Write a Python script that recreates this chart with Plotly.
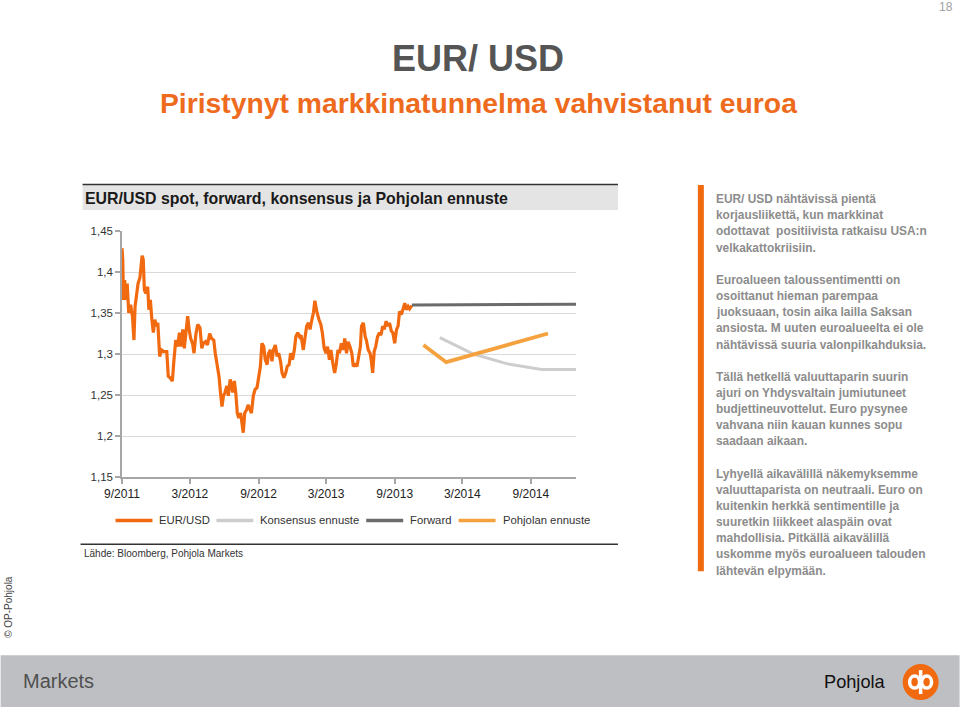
import plotly.graph_objects as go

# ---------------- data ----------------
spot_dates = [
 "2011-09-01","2011-09-03","2011-09-05","2011-09-08","2011-09-12","2011-09-15","2011-09-19","2011-09-24","2011-09-29",
 "2011-10-03","2011-10-06","2011-10-10","2011-10-14","2011-10-19","2011-10-22","2011-10-25","2011-10-28","2011-10-31",
 "2011-11-04","2011-11-09","2011-11-12","2011-11-16","2011-11-20","2011-11-24","2011-11-28",
 "2011-12-02","2011-12-06","2011-12-11","2011-12-16","2011-12-22","2011-12-30",
 "2012-01-03","2012-01-08","2012-01-14","2012-01-18","2012-01-23","2012-01-28",
 "2012-02-02","2012-02-06","2012-02-11","2012-02-15","2012-02-20","2012-02-24","2012-02-28",
 "2012-03-03","2012-03-08","2012-03-12","2012-03-17","2012-03-22","2012-03-28",
 "2012-04-02","2012-04-06","2012-04-12","2012-04-17","2012-04-23","2012-04-28",
 "2012-05-04","2012-05-08","2012-05-13","2012-05-18","2012-05-22","2012-05-26","2012-05-30",
 "2012-06-03","2012-06-08","2012-06-12","2012-06-17","2012-06-21","2012-06-24","2012-06-28",
 "2012-07-02","2012-07-06","2012-07-10","2012-07-15","2012-07-18","2012-07-22","2012-07-26","2012-07-31",
 "2012-08-04","2012-08-09","2012-08-13","2012-08-18","2012-08-23","2012-08-28",
 "2012-09-02","2012-09-06","2012-09-10","2012-09-15","2012-09-19","2012-09-24","2012-09-28",
 "2012-10-03","2012-10-07","2012-10-11","2012-10-16","2012-10-21","2012-10-25","2012-10-30",
 "2012-11-03","2012-11-08","2012-11-13","2012-11-17","2012-11-22","2012-11-26",
 "2012-12-01","2012-12-06","2012-12-10","2012-12-15","2012-12-20","2012-12-24","2012-12-30",
 "2013-01-03","2013-01-08","2013-01-13","2013-01-17","2013-01-22","2013-01-26","2013-01-30",
 "2013-02-02","2013-02-05","2013-02-10","2013-02-15","2013-02-19","2013-02-24",
 "2013-03-01","2013-03-05","2013-03-10","2013-03-14","2013-03-19","2013-03-24","2013-03-28",
 "2013-04-02","2013-04-06","2013-04-11","2013-04-16","2013-04-20","2013-04-25","2013-04-29",
 "2013-05-04","2013-05-09","2013-05-13","2013-05-18","2013-05-23","2013-05-27",
 "2013-06-01","2013-06-04","2013-06-09","2013-06-14","2013-06-17","2013-06-22","2013-06-27","2013-06-30",
 "2013-07-04","2013-07-08","2013-07-12","2013-07-17","2013-07-22","2013-07-26","2013-07-31",
 "2013-08-04","2013-08-09","2013-08-14","2013-08-18","2013-08-23","2013-08-27",
 "2013-09-01","2013-09-06","2013-09-10","2013-09-14","2013-09-19","2013-09-23","2013-09-28",
 "2013-10-02","2013-10-07","2013-10-11","2013-10-14","2013-10-17",
]
spot_values = [
 1.429,1.415,1.366,1.390,1.366,1.386,1.350,1.360,1.346,
 1.317,1.358,1.374,1.386,1.393,1.403,1.420,1.415,1.378,
 1.374,1.382,1.354,1.366,1.342,1.326,1.342,
 1.334,1.338,1.297,1.305,1.303,1.303,
 1.273,1.271,1.267,1.291,1.317,1.309,
 1.326,1.309,1.330,1.307,1.330,1.346,1.330,
 1.319,1.313,1.301,1.324,1.336,1.332,
 1.307,1.313,1.315,1.311,1.325,1.319,
 1.317,1.301,1.285,1.273,1.253,1.236,1.249,
 1.253,1.261,1.249,1.269,1.261,1.253,1.267,
 1.253,1.228,1.222,1.228,1.216,1.204,1.228,1.232,
 1.238,1.232,1.228,1.249,1.257,1.259,
 1.273,1.285,1.313,1.309,1.293,1.287,1.301,
 1.305,1.291,1.305,1.311,1.297,1.301,1.291,
 1.277,1.271,1.277,1.285,1.287,1.301,
 1.293,1.305,1.321,1.326,1.321,1.323,1.305,
 1.317,1.334,1.338,1.330,1.342,1.350,1.365,
 1.356,1.350,1.342,1.336,1.326,1.307,
 1.301,1.309,1.293,1.305,1.289,1.277,1.287,
 1.305,1.301,1.313,1.305,1.319,1.301,1.315,
 1.309,1.301,1.285,1.287,1.285,1.297,
 1.309,1.334,1.338,1.321,1.317,1.305,1.301,1.293,
 1.277,1.303,1.309,1.321,1.326,1.323,1.334,
 1.330,1.340,1.334,1.338,1.328,1.326,
 1.313,1.330,1.334,1.352,1.348,1.354,1.362,
 1.354,1.358,1.355,1.357,1.359,
]

cons_dates = ["2013-12-31", "2014-03-31", "2014-06-30", "2014-09-30", "2014-12-31"]
cons_values = [1.32, 1.30, 1.288, 1.281, 1.281]

fwd_dates = ["2013-10-17", "2014-01-17", "2014-04-17", "2014-07-17", "2014-10-17", "2014-12-31"]
fwd_values = [1.3598, 1.3598, 1.3598, 1.3598, 1.3600, 1.3606]

pohj_dates = ["2013-11-17", "2014-01-17", "2014-10-17"]
pohj_values = [1.311, 1.290, 1.325]

y_ticks = [1.15, 1.20, 1.25, 1.30, 1.35, 1.40, 1.45]
y_tick_labels = ["1,15", "1,2", "1,25", "1,3", "1,35", "1,4", "1,45"]
x_ticks = ["2011-09-01", "2012-03-01", "2012-09-01", "2013-03-01", "2013-09-01", "2014-03-01", "2014-09-01"]
x_tick_labels = ["9/2011", "3/2012", "9/2012", "3/2013", "9/2013", "3/2014", "9/2014"]

series_names = ["EUR/USD", "Konsensus ennuste", "Forward", "Pohjolan ennuste"]
series_colors = ["#F26A10", "#CDCDCD", "#6B6B6B", "#F5A23E"]

right_paragraphs = [
    ["EUR/ USD nähtävissä pientä", "korjausliikettä, kun markkinat",
     "odottavat  positiivista ratkaisu USA:n", "velkakattokriisiin."],
    ["Euroalueen taloussentimentti on", "osoittanut hieman parempaa",
     "juoksuaan, tosin aika lailla Saksan", "ansiosta. M uuten euroalueelta ei ole",
     "nähtävissä suuria valonpilkahduksia."],
    ["Tällä hetkellä valuuttaparin suurin", "ajuri on Yhdysvaltain jumiutuneet",
     "budjettineuvottelut. Euro pysynee", "vahvana niin kauan kunnes sopu",
     "saadaan aikaan."],
    ["Lyhyellä aikavälillä näkemyksemme", "valuuttaparista on neutraali. Euro on",
     "kuitenkin herkkä sentimentille ja", "suuretkin liikkeet alaspäin ovat",
     "mahdollisia. Pitkällä aikavälillä", "uskomme myös euroalueen talouden",
     "lähtevän elpymään."],
]

# ---------------- layout helpers ----------------
W, H = 960, 711
L, R, T, B = 121.5, 576, 231, 477.5  # plot area in pixels


def px(x):
    return (x - L) / (R - L)


def py(y):
    return (B - y) / (B - T)


FONT = "Liberation Sans"

fig = go.Figure()
series = [(spot_dates, spot_values, 3.2), (cons_dates, cons_values, 3),
          (fwd_dates, fwd_values, 3), (pohj_dates, pohj_values, 3.8)]
for (xs, ys, w), name, col in zip(series, series_names, series_colors):
    fig.add_trace(go.Scatter(x=xs, y=ys, mode="lines", name=name, showlegend=False,
                             line=dict(color=col, width=w)))

shapes = []
annotations = []

# manual legend
leg_y = 521
leg_sample_x = [115, 216, 366, 458.5]
for sx, name, col in zip(leg_sample_x, series_names, series_colors):
    shapes.append(dict(type="line", xref="paper", yref="paper", x0=px(sx), x1=px(sx + 37),
                       y0=py(leg_y), y1=py(leg_y), line=dict(color=col, width=3.5)))
    annotations.append(dict(xref="paper", yref="paper", x=px(sx + 42), y=py(leg_y), xanchor="left",
                            yanchor="middle", text=name, showarrow=False,
                            font=dict(family=FONT, size=11.3, color="#333333")))

# chart title band
shapes.append(dict(type="rect", xref="paper", yref="paper", x0=px(82), x1=px(618), y0=py(210), y1=py(185),
                   fillcolor="#E4E4E4", line=dict(width=0), layer="below"))
shapes.append(dict(type="line", xref="paper", yref="paper", x0=px(82), x1=px(618), y0=py(184.5), y1=py(184.5),
                   line=dict(color="#333333", width=1.5)))
annotations.append(dict(xref="paper", yref="paper", x=px(82), y=py(198), xanchor="left", yanchor="middle",
                        text="<b>EUR/USD spot, forward, konsensus ja Pohjolan ennuste</b>", showarrow=False,
                        font=dict(family=FONT, size=15.9, color="#1A1A1A")))
# bottom rule + source
shapes.append(dict(type="line", xref="paper", yref="paper", x0=px(80), x1=px(618), y0=py(545), y1=py(545),
                   line=dict(color="#333333", width=1.5)))
annotations.append(dict(xref="paper", yref="paper", x=px(81), y=py(554), xanchor="left", yanchor="middle",
                        text="Lähde: Bloomberg, Pohjola Markets", showarrow=False,
                        font=dict(family=FONT, size=10, color="#333333")))

# page titles
annotations.append(dict(xref="paper", yref="paper", x=px(477.5), y=py(58), xanchor="center", yanchor="middle",
                        text="<b>EUR/ USD</b>", showarrow=False,
                        font=dict(family=FONT, size=36, color="#555555")))
annotations.append(dict(xref="paper", yref="paper", x=px(158), y=py(103), xanchor="left", yanchor="middle",
                        text="<b>Piristynyt markkinatunnelma vahvistanut euroa</b>", showarrow=False,
                        font=dict(family=FONT, size=28.3, color="#EE6B1E")))
annotations.append(dict(xref="paper", yref="paper", x=px(955), y=py(7), xanchor="right", yanchor="middle",
                        text="18", showarrow=False, font=dict(family=FONT, size=12, color="#A0A0A0")))

# right text column
shapes.append(dict(type="rect", xref="paper", yref="paper", x0=px(698), x1=px(704), y0=py(572), y1=py(185),
                   fillcolor="#F26A10", line=dict(width=0)))
para_tops = [199, 280, 377, 474]
for top, lines in zip(para_tops, right_paragraphs):
    for i, line in enumerate(lines):
        annotations.append(dict(xref="paper", yref="paper", x=px(714), y=py(top + i * 16.2),
                                xanchor="left", yanchor="middle", text="<b>" + line + "</b>", showarrow=False,
                                font=dict(family=FONT, size=11.9, color="#8C8C8C")))

# left rotated copyright
annotations.append(dict(xref="paper", yref="paper", x=px(8), y=py(608), xanchor="center", yanchor="middle",
                        text="© OP-Pohjola", textangle=-90, showarrow=False,
                        font=dict(family=FONT, size=10, color="#444444")))

# footer band
shapes.append(dict(type="rect", xref="paper", yref="paper", x0=px(0), x1=px(960), y0=py(708), y1=py(656),
                   fillcolor="#BEBFC3", line=dict(width=0), layer="below"))
annotations.append(dict(xref="paper", yref="paper", x=px(20), y=py(682), xanchor="left", yanchor="middle",
                        text="Markets", showarrow=False, font=dict(family=FONT, size=20, color="#505050")))
annotations.append(dict(xref="paper", yref="paper", x=px(888), y=py(683), xanchor="right", yanchor="middle",
                        text="Pohjola", showarrow=False, font=dict(family=FONT, size=18.2, color="#111111")))
# OP logo
cx, cy, r = 921, 683, 18
shapes.append(dict(type="circle", xref="paper", yref="paper", x0=px(cx - r), x1=px(cx + r), y0=py(cy + r),
                   y1=py(cy - r), fillcolor="#F26A10", line=dict(width=0)))
shapes.append(dict(type="circle", xref="paper", yref="paper", x0=px(cx - 11), x1=px(cx - 1), y0=py(cy + 6),
                   y1=py(cy - 6), fillcolor="rgba(0,0,0,0)", line=dict(color="white", width=3.5)))
shapes.append(dict(type="circle", xref="paper", yref="paper", x0=px(cx + 1), x1=px(cx + 11), y0=py(cy + 6),
                   y1=py(cy - 6), fillcolor="rgba(0,0,0,0)", line=dict(color="white", width=3.5)))
shapes.append(dict(type="line", xref="paper", yref="paper", x0=px(cx), x1=px(cx), y0=py(cy + 12),
                   y1=py(cy - 12), line=dict(color="white", width=3.5)))

fig.update_layout(
    width=W, height=H,
    margin=dict(l=L, r=W - R, t=T, b=H - B),
    paper_bgcolor="white", plot_bgcolor="white",
    separators=", ",
    font=dict(family=FONT, size=12, color="#333333"),
    shapes=shapes, annotations=annotations,
    showlegend=False,
    xaxis=dict(type="date", range=["2011-09-01", "2014-12-31"], tickvals=x_ticks, ticktext=x_tick_labels,
               showgrid=False, showline=True, linecolor="#A6A6A6", linewidth=1.5,
               ticks="outside", ticklen=5, tickcolor="#A6A6A6", tickwidth=1.5,
               tickfont=dict(family=FONT, size=12, color="#222222"), zeroline=False),
    yaxis=dict(range=[1.15, 1.45], tickvals=y_ticks, ticktext=y_tick_labels,
               showgrid=True, gridcolor="#DADADA", gridwidth=1.2,
               showline=True, linecolor="#A6A6A6", linewidth=1.5,
               ticks="outside", ticklen=5, tickcolor="#A6A6A6", tickwidth=1.5,
               tickfont=dict(family=FONT, size=11.5, color="#333333"), zeroline=False),
)

fig.write_html("out.html")
